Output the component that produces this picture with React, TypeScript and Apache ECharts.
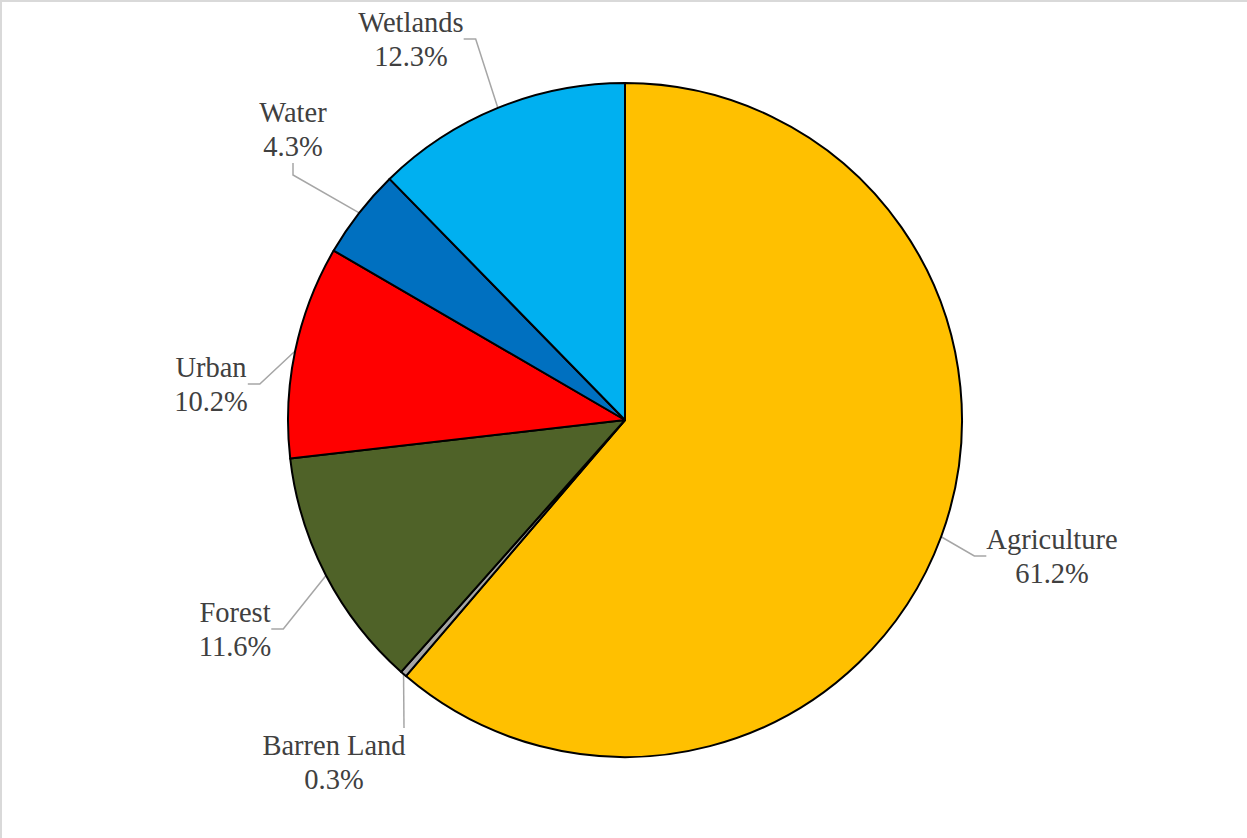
import React, { useEffect, useRef } from "react";
import * as echarts from "echarts";

const categories = ["Agriculture", "Barren Land", "Forest", "Urban", "Water", "Wetlands"];
const shares = [61.2, 0.3, 11.6, 10.2, 4.3, 12.3];
const sliceColors = ["#FFC000", "#A5A5A5", "#4F6228", "#FF0000", "#0070C0", "#00B0F0"];

// label block anchors (layout, not data)
const labelCenters: [number, number][] = [
  [1052, 556],
  [404, 762],
  [235, 629],
  [211, 384],
  [293, 129],
  [411, 39],
];

export default function App() {
  const ref = useRef<HTMLDivElement>(null);
  useEffect(() => {
    if (!ref.current) return;
    const chart = echarts.init(ref.current, null, { renderer: "svg" });
    chart.setOption({
      animation: false,
      backgroundColor: "#FFFFFF",
      graphic: [
        { type: "line", shape: { x1: 0, y1: 1, x2: 1247, y2: 1 }, style: { stroke: "#D9D9D9", lineWidth: 2 } },
        { type: "line", shape: { x1: 1, y1: 0, x2: 1, y2: 838 }, style: { stroke: "#D9D9D9", lineWidth: 2 } },
      ],
      series: [
        {
          type: "pie",
          center: [625, 420],
          radius: 337,
          startAngle: 90,
          clockwise: true,
          avoidLabelOverlap: false,
          data: categories.map((c, i) => {
            const item: any = {
              name: c,
              value: shares[i],
              itemStyle: { color: sliceColors[i] },
            };
            if (c === "Barren Land") {
              item.label = { padding: [0, 140, 0, 0] };
              item.labelLine = { length2: 0 };
            }
            return item;
          }),
          itemStyle: { borderColor: "#000000", borderWidth: 2 },
          emphasis: { disabled: true },
          label: {
            show: true,
            position: "outside",
            formatter: "{b}\n{c}%",
            fontFamily: "Liberation Serif",
            fontSize: 28.5,
            lineHeight: 34,
            color: "#404040",
            align: "center",
          },
          labelLine: {
            show: true,
            length: 15,
            length2: 12,
            lineStyle: { color: "#A6A6A6", width: 1.5 },
          },
          labelLayout: (params: any) => {
            const p = labelCenters[params.dataIndex];
            return { x: p[0], y: p[1], align: "center", verticalAlign: "middle" };
          },
        },
      ],
    });
    return () => chart.dispose();
  }, []);
  return (
    <div
      ref={ref}
      style={{ position: "absolute", left: 0, top: 0, width: 1247, height: 838, background: "#fff" }}
    />
  );
}
